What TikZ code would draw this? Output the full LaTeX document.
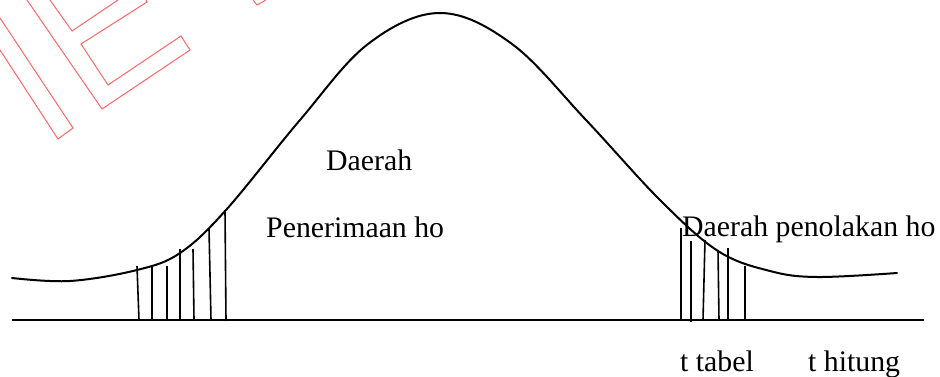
\documentclass[tikz,border=0pt]{standalone}
\usepackage{fontspec}
\setmainfont{Liberation Serif}
\begin{document}
\begin{tikzpicture}[x=1pt,y=-1pt,
  curve/.style={line width=2pt,line join=round,line cap=round},
  hatch/.style={line width=1.6pt},
  axisline/.style={line width=2pt},
  wm/.style={draw=red!60,line width=1pt,line join=miter},
  lbl/.style={anchor=base west,inner sep=0pt,font=\fontsize{29.8}{34}\selectfont}]
\useasboundingbox (0,0) rectangle (940,377);
% watermark outlines
\draw[wm] (0,18) -- (73,128) -- (58,139) -- (0,50);
\draw[wm] (27,0) -- (102,109) -- (190,50) -- (181,36) -- (108,85) -- (81,44) -- (147,2) -- (146,0);
\draw[wm] (50,0) -- (72,31) -- (118,0);
\draw[wm] (253,0) -- (257,5) -- (266,0);
% baseline
\draw[axisline] (12,320) -- (924,320);
% curve
\draw[curve] plot[smooth,tension=0.6] coordinates {
 (12,278) (70,281) (137,270) (180,253) (226,210) (300,120) (368,44) (440,13)
 (512,44) (586,120) (660,200) (718,251) (770,271) (817,277) (897,273)};
% left hatch
\draw[hatch] (137,266) -- (139,320);
\draw[hatch] (152,267) -- (152,320);
\draw[hatch] (167,266) -- (167,320);
\draw[hatch] (180,249) -- (180,320);
\draw[hatch] (193,249) -- (194,320);
\draw[hatch] (209,229) -- (211,320);
\draw[hatch] (225,210) -- (226,321);
% right hatch
\draw[hatch] (681,228) -- (681,320);
\draw[hatch] (691,241) -- (691,322);
\draw[hatch] (705,240) -- (703,320);
\draw[hatch] (718,250) -- (719,320);
\draw[hatch] (728,248) -- (728,320);
\draw[hatch] (745,266) -- (745,320);
% labels
\node[lbl] (d1) at (326,171) {Daerah};
\node[lbl] (d2) at (266,237) {Penerimaan ho};
\node[lbl] (d3) at (682,236) {Daerah penolakan ho};
\node[lbl] (tt) at (680,371) {t tabel};
\node[lbl] (th) at (808,371) {t hitung};
\end{tikzpicture}
\end{document}
